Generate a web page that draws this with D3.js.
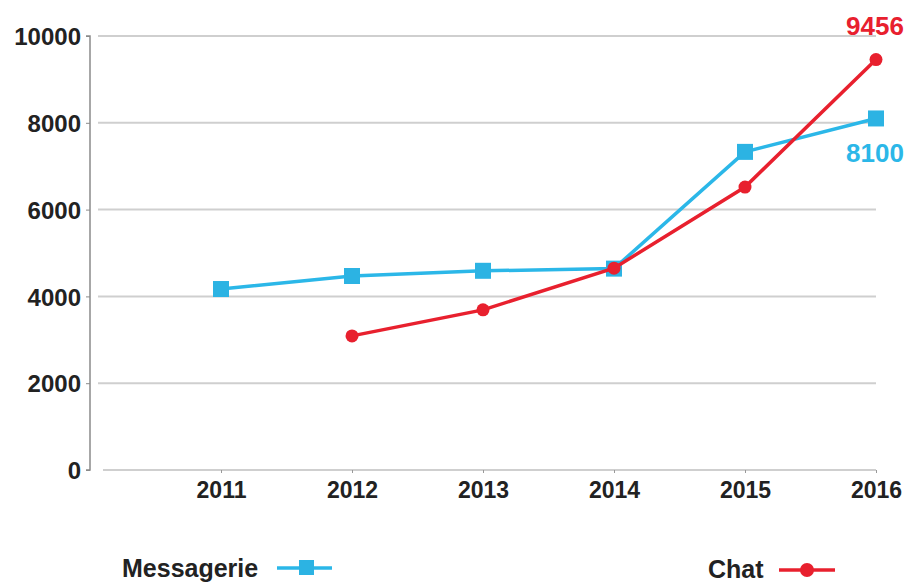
<!DOCTYPE html>
<html>
<head>
<meta charset="utf-8">
<script src="https://cdn.jsdelivr.net/npm/d3@7"></script>
<style>
  html, body { margin: 0; padding: 0; background: #fff; }
  svg { display: block; font-family: "Liberation Sans", Arial, sans-serif; }
</style>
</head>
<body>
<svg id="chart" width="910" height="583"></svg>
<script>
const years = [2011, 2012, 2013, 2014, 2015, 2016];
const messagerieValues = [4170, 4470, 4590, 4640, 7330, 8100];
const chatYears = [2012, 2013, 2014, 2015, 2016];
const chatValues = [3090, 3690, 4650, 6520, 9456];
const yTicks = [0, 2000, 4000, 6000, 8000, 10000];
const seriesNames = ["Messagerie", "Chat"];
const endLabels = ["8100", "9456"];

const blue = "#2bb7e8";
const red = "#e8202e";

const svg = d3.select("#chart");
const x = d3.scaleLinear().domain([2010, 2016]).range([90, 876]);
const y = d3.scaleLinear().domain([0, 10000]).range([470, 36]);

// gridlines
svg.append("g").selectAll("line").data(yTicks).join("line")
  .attr("x1", d => d === 0 ? 103 : 98).attr("x2", 876)
  .attr("y1", d => y(d)).attr("y2", d => y(d))
  .attr("stroke", "#cfcfcf").attr("stroke-width", 2);

// y axis
const yAxis = d3.axisLeft(y).tickValues(yTicks).tickSize(4).tickPadding(5).tickFormat(d3.format("d"));
const gy = svg.append("g").attr("transform", "translate(90,0)").call(yAxis);
gy.select(".domain").attr("stroke", "#8a8a8a").attr("stroke-width", 1.5).attr("d", `M-4,${y(10000)}H0V${y(0)}H-4`);
gy.selectAll(".tick line").attr("stroke", "#8a8a8a");
gy.selectAll(".tick text").attr("font-size", 24).attr("font-weight", "bold").attr("fill", "#222").attr("dy", "0.36em");

// x axis
const xAxis = d3.axisBottom(x).tickValues(years).tickSize(3).tickPadding(9).tickFormat(d3.format("d"));
const gx = svg.append("g").attr("transform", `translate(0,${y(0)})`).call(xAxis);
gx.select(".domain").remove();
gx.selectAll(".tick line").attr("stroke", "#999");
gx.selectAll(".tick text").attr("font-size", 23).attr("font-weight", "bold").attr("fill", "#222");

// lines
const mData = years.map((yr, i) => ({ x: yr, v: messagerieValues[i] }));
const cData = chatYears.map((yr, i) => ({ x: yr, v: chatValues[i] }));
const line = d3.line().x(d => x(d.x)).y(d => y(d.v));

svg.append("path").datum(mData).attr("d", line)
  .attr("fill", "none").attr("stroke", blue).attr("stroke-width", 3.5);
svg.append("g").selectAll("rect").data(mData).join("rect")
  .attr("x", d => x(d.x) - 8).attr("y", d => y(d.v) - 8)
  .attr("width", 16).attr("height", 16).attr("fill", "#2cb3e3");

svg.append("path").datum(cData).attr("d", line)
  .attr("fill", "none").attr("stroke", red).attr("stroke-width", 3.5);
svg.append("g").selectAll("circle").data(cData).join("circle")
  .attr("cx", d => x(d.x)).attr("cy", d => y(d.v)).attr("r", 6.5).attr("fill", red);

// end labels
svg.append("text").attr("x", x(2016) - 1).attr("y", 35).attr("text-anchor", "middle")
  .attr("font-size", 26).attr("font-weight", "bold").attr("fill", red).text(endLabels[1]);
svg.append("text").attr("x", x(2016) - 1).attr("y", 162).attr("text-anchor", "middle")
  .attr("font-size", 26).attr("font-weight", "bold").attr("fill", blue).text(endLabels[0]);

// legend
const lg = svg.append("g");
lg.append("text").attr("x", 122).attr("y", 577).attr("font-size", 25).attr("font-weight", "bold")
  .attr("fill", "#222").text(seriesNames[0]);
lg.append("line").attr("x1", 277).attr("x2", 332).attr("y1", 568).attr("y2", 568)
  .attr("stroke", blue).attr("stroke-width", 3.5);
lg.append("rect").attr("x", 299).attr("y", 560).attr("width", 15).attr("height", 15).attr("fill", "#2cb3e3");

lg.append("text").attr("x", 708).attr("y", 578).attr("font-size", 25).attr("font-weight", "bold")
  .attr("fill", "#222").text(seriesNames[1]);
lg.append("line").attr("x1", 779).attr("x2", 835).attr("y1", 570).attr("y2", 570)
  .attr("stroke", red).attr("stroke-width", 3.5);
lg.append("circle").attr("cx", 807).attr("cy", 570).attr("r", 7).attr("fill", red);
</script>
</body>
</html>
